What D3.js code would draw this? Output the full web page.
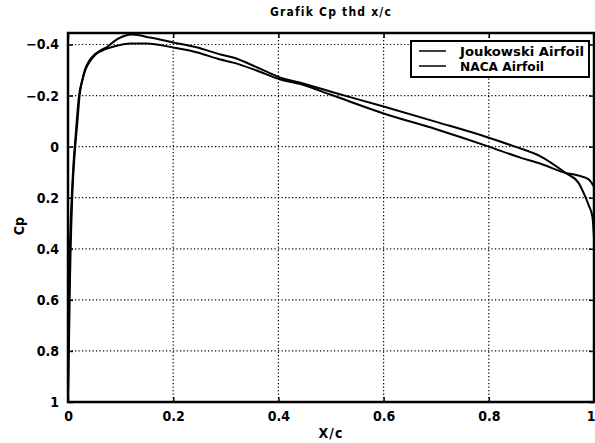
<!DOCTYPE html>
<html>
<head>
<meta charset="utf-8">
<script src="https://cdn.jsdelivr.net/npm/d3@7/dist/d3.min.js"></script>
<style>
  html, body { margin: 0; padding: 0; background: #fff; }
  svg { display: block; }
  text { font-family: "Liberation Sans Narrow", "DejaVu Sans", sans-serif; font-stretch: condensed; font-weight: bold; fill: #000; }
</style>
</head>
<body>
<svg id="chart" width="595" height="443"></svg>
<script>
// Chordwise position x/c and pressure coefficient Cp for each airfoil
const xJoukowski = [0, 0.002, 0.004, 0.008, 0.013, 0.018, 0.022, 0.028, 0.034, 0.042, 0.052, 0.064, 0.076, 0.093, 0.118, 0.15, 0.2, 0.246, 0.29, 0.314, 0.36, 0.404, 0.442, 0.5, 0.6, 0.7, 0.75, 0.8, 0.86, 0.9, 0.946, 0.97, 0.99, 1.0];
const cpJoukowski = [1.0, 0.75, 0.5, 0.2, 0.02, -0.1, -0.2, -0.265, -0.305, -0.335, -0.36, -0.375, -0.385, -0.395, -0.404, -0.404, -0.388, -0.369, -0.341, -0.329, -0.297, -0.263, -0.245, -0.203, -0.13, -0.068, -0.035, 0.0, 0.043, 0.068, 0.103, 0.113, 0.128, 0.157];

const xNaca = [0, 0.001, 0.003, 0.006, 0.01, 0.014, 0.021, 0.027, 0.032, 0.04, 0.05, 0.062, 0.074, 0.093, 0.122, 0.156, 0.2, 0.246, 0.29, 0.314, 0.36, 0.404, 0.442, 0.5, 0.6, 0.7, 0.8, 0.85, 0.9, 0.946, 0.97, 0.98, 0.99, 0.997, 1.0];
const cpNaca = [1.0, 0.7, 0.45, 0.25, 0.08, -0.03, -0.2, -0.26, -0.3, -0.335, -0.36, -0.377, -0.39, -0.42, -0.439, -0.427, -0.408, -0.388, -0.361, -0.349, -0.31, -0.27, -0.25, -0.215, -0.157, -0.097, -0.035, 0.0, 0.04, 0.103, 0.14, 0.18, 0.23, 0.275, 0.355];

const xTicks = [0, 0.2, 0.4, 0.6, 0.8, 1];
const yTicks = [-0.4, -0.2, 0, 0.2, 0.4, 0.6, 0.8, 1];
const legendLabels = ["Joukowski Airfoil", "NACA Airfoil"];

const svg = d3.select("#chart");
const plotLeft = 68, plotRight = 594, plotTop = 33, plotBottom = 402;

const x = d3.scaleLinear().domain([0, 1]).range([plotLeft, plotRight]);
// Cp axis runs reversed: suction (negative Cp) at the top
const y = d3.scaleLinear().domain([-0.445, 1]).range([plotTop, plotBottom]);

// Dotted grid
const grid = svg.append("g").attr("stroke", "#000").attr("stroke-width", 1.2).attr("stroke-dasharray", "1.2,2.3");
grid.selectAll("line.gx").data(xTicks.slice(1, -1)).join("line").attr("class", "gx")
  .attr("x1", d => x(d)).attr("x2", d => x(d)).attr("y1", plotTop).attr("y2", plotBottom);
grid.selectAll("line.gy").data(yTicks.slice(0, -1)).join("line").attr("class", "gy")
  .attr("x1", plotLeft).attr("x2", plotRight).attr("y1", d => y(d)).attr("y2", d => y(d));

// Curves
const line = d3.line().x(d => x(d[0])).y(d => y(d[1])).curve(d3.curveMonotoneX);
const seriesData = [
  d3.zip(xJoukowski, cpJoukowski),
  d3.zip(xNaca, cpNaca)
];
svg.append("g").selectAll("path").data(seriesData).join("path")
  .attr("d", line).attr("fill", "none").attr("stroke", "#000").attr("stroke-width", 2)
  .attr("stroke-linejoin", "round");

// Axes with inward ticks
const fmt = d => d === 0 ? "0" : d === 1 ? "1" : d3.format(".1f")(d);
const xAxis = svg.append("g").attr("transform", `translate(0,${plotBottom})`)
  .call(d3.axisBottom(x).tickValues(xTicks).tickSize(-5).tickPadding(9).tickFormat(fmt));
const yAxis = svg.append("g").attr("transform", `translate(${plotLeft},0)`)
  .call(d3.axisLeft(y).tickValues(yTicks).tickSize(-5).tickPadding(9).tickFormat(fmt));
const xAxisTop = svg.append("g").attr("transform", `translate(0,${plotTop})`)
  .call(d3.axisTop(x).tickValues(xTicks).tickSize(-5).tickFormat(""));
const yAxisRight = svg.append("g").attr("transform", `translate(${plotRight},0)`)
  .call(d3.axisRight(y).tickValues(yTicks).tickSize(-5).tickFormat(""));

[xAxis, yAxis, xAxisTop, yAxisRight].forEach(g => {
  g.select(".domain").remove();
  g.selectAll(".tick line").attr("stroke", "#000").attr("stroke-width", 1.5);
  g.selectAll("text").attr("font-size", 14).attr("fill", "#000");
  g.attr("font-family", null);
});
// keep the last x label inside the page edge
xAxis.selectAll(".tick text").filter(d => d === 1).attr("text-anchor", "end").attr("dx", 1);

// Plot frame
svg.append("rect").attr("x", plotLeft).attr("y", plotTop).attr("width", plotRight - plotLeft).attr("height", plotBottom - plotTop)
  .attr("fill", "none").attr("stroke", "#000").attr("stroke-width", 2.5);

// Titles
svg.append("text").attr("x", (plotLeft + plotRight) / 2).attr("y", 16).attr("text-anchor", "middle")
  .attr("font-size", 12).attr("letter-spacing", 1.2).text("Grafik Cp thd x/c");
svg.append("text").attr("x", (plotLeft + plotRight) / 2).attr("y", 438).attr("text-anchor", "middle")
  .attr("font-size", 14).attr("letter-spacing", 1).text("X/c");
svg.append("text").attr("transform", "translate(24,226) rotate(-90)").attr("text-anchor", "middle")
  .attr("font-size", 14).text("Cp");

// Legend
const lg = svg.append("g");
lg.append("rect").attr("x", 411).attr("y", 41).attr("width", 178).attr("height", 36)
  .attr("fill", "#fff").attr("stroke", "#000").attr("stroke-width", 2);
const legendWidths = [124, 84];
legendLabels.forEach((lbl, i) => {
  const ly = 51 + i * 15;
  lg.append("line").attr("x1", 419).attr("x2", 446).attr("y1", ly).attr("y2", ly)
    .attr("stroke", "#000").attr("stroke-width", 1.5);
  lg.append("text").attr("x", 460).attr("y", ly + 5).attr("font-size", 13)
    .attr("textLength", legendWidths[i]).attr("lengthAdjust", "spacingAndGlyphs").text(lbl);
});
</script>
</body>
</html>
